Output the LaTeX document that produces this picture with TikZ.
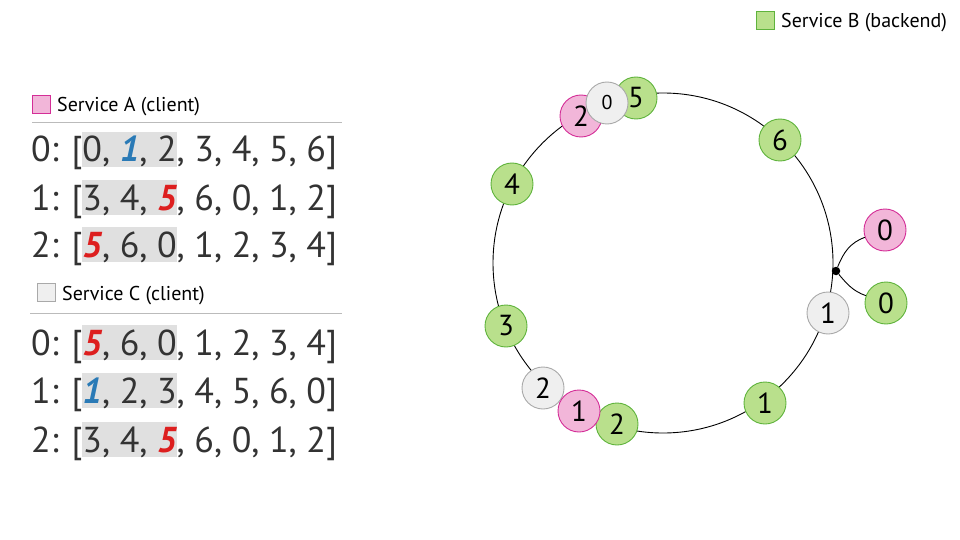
\documentclass[tikz,border=0pt]{standalone}
\usepackage{fontspec}
\setmainfont{PT Sans}
\definecolor{bfill}{HTML}{B9E08C}
\definecolor{bstroke}{HTML}{5FB33C}
\definecolor{afill}{HTML}{F2B6D9}
\definecolor{astroke}{HTML}{D42E97}
\definecolor{cfill}{HTML}{EFEFEF}
\definecolor{cstroke}{HTML}{A9A9A9}
\definecolor{hlgray}{HTML}{E0E0E0}
\definecolor{rulegray}{HTML}{BBBBBB}
\definecolor{listtext}{HTML}{333333}
\definecolor{bluenum}{HTML}{2A7AB6}
\definecolor{rednum}{HTML}{DD1F1F}
\newcommand\hlbox[1]{{\setlength\fboxsep{0pt}\colorbox{hlgray}{\vrule width 0pt height 0.82em depth 0.12em #1}}}
\newcommand\bluenum[1]{{\color{bluenum}\bfseries\itshape #1}}
\newcommand\rednum[1]{{\color{rednum}\bfseries\itshape #1}}
\begin{document}
\begin{tikzpicture}[x=1pt,y=-1pt,
  member/.style={circle, line width=0.9pt, minimum size=42pt, inner sep=0pt,
    font=\fontsize{29}{29}\selectfont},
  bnode/.style={member, draw=bstroke, fill=bfill},
  anode/.style={member, draw=astroke, fill=afill},
  cnode/.style={member, draw=cstroke, fill=cfill},
  link/.style={draw=black, line width=0.9pt},
  listrow/.style={anchor=base west, inner sep=0pt, text=listtext,
    font=\fontsize{36}{40}\selectfont},
  legendtxt/.style={anchor=base west, inner sep=0pt, font=\fontsize{20}{22}\selectfont},
  legendbox/.style={line width=0.9pt, minimum size=18pt, inner sep=0pt},
  divider/.style={draw=rulegray, line width=0.9pt}
]
\useasboundingbox (0,0) rectangle (960,540);

% ---- legends ----
\node[legendbox, draw=bstroke, fill=bfill] (legB) at (765.5,20) {};
\node[legendtxt] (legBtxt) at (781,28) {Service B (backend)};

\node[legendbox, draw=astroke, fill=afill] (legA) at (41.5,104) {};
\node[legendtxt] (legAtxt) at (57,112) {Service A (client)};
\coordinate (ruleAl) at (32,122);
\coordinate (ruleAr) at (342,122);
\draw[divider] (ruleAl) -- (ruleAr);

\node[listrow] (a0) at (31,162) {0: [\hlbox{0, \bluenum{1}, 2}, 3, 4, 5, 6]};
\node[listrow] (a1) at (31,210) {1: [\hlbox{3, 4, \rednum{5}}, 6, 0, 1, 2]};
\node[listrow] (a2) at (31,257) {2: [\hlbox{\rednum{5}, 6, 0}, 1, 2, 3, 4]};

\node[legendbox, draw=cstroke, fill=cfill] (legC) at (46.5,292.5) {};
\node[legendtxt] (legCtxt) at (62,300) {Service C (client)};
\coordinate (ruleCl) at (30,313);
\coordinate (ruleCr) at (342,313);
\draw[divider] (ruleCl) -- (ruleCr);

\node[listrow] (c0) at (31,355) {0: [\hlbox{\rednum{5}, 6, 0}, 1, 2, 3, 4]};
\node[listrow] (c1) at (31,403) {1: [\hlbox{\bluenum{1}, 2, 3}, 4, 5, 6, 0]};
\node[listrow] (c2) at (31,452) {2: [\hlbox{3, 4, \rednum{5}}, 6, 0, 1, 2]};

% ---- hash ring ----
\node[circle, draw=black, line width=0.9pt, minimum size=340pt, inner sep=0pt] (ring) at (663,263) {};

% backend members and clients placed around the ring
\node[bnode] (b6) at (780,140) {6};
\node[bnode] (b4) at (512,184) {4};
\node[bnode] (b3) at (506,326) {3};
\node[bnode] (b1) at (765,403) {1};
\node[cnode] (c1r) at (828,313) {1};

\node[anode] (a2r) at (581,116) {2};
\node[bnode] (b5) at (636,98) {5};
\node[cnode, font=\fontsize{20}{20}\selectfont] (c0r) at (607,103) {0};

\node[cnode] (c2r) at (543,388) {2};
\node[bnode] (b2) at (617,424) {2};
\node[anode] (a1r) at (579,411) {1};

% shared point on the ring and its two members
\node[circle, fill=black, inner sep=0pt, minimum size=8.5pt] (dot) at (836,271) {};
\node[anode] (a0r) at (885,230) {0};
\node[bnode] (b0) at (886,303) {0};
\draw[link] (dot) to[out=68,in=200] (a0r);
\draw[link] (dot) to[out=-50,in=160] (b0);
\end{tikzpicture}
\end{document}
